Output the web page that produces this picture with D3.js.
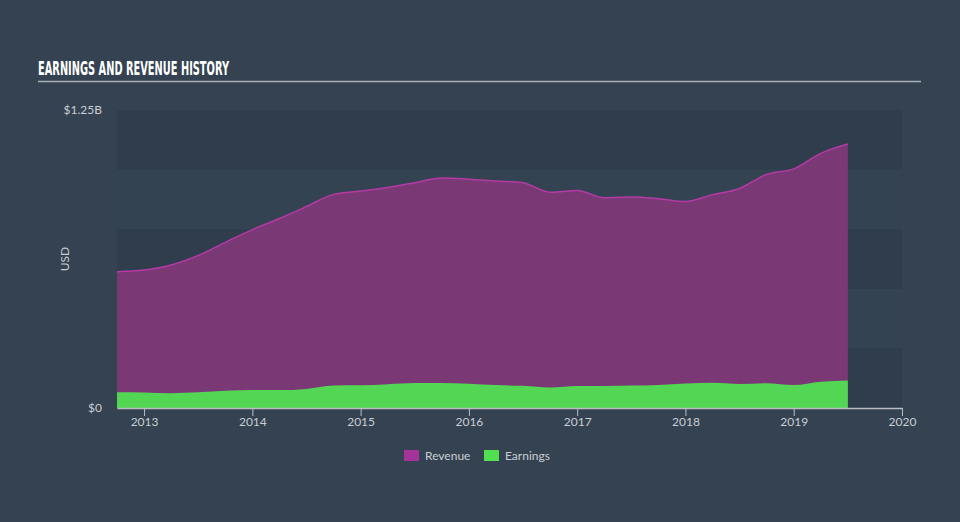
<!DOCTYPE html>
<html><head><meta charset="utf-8">
<script src="https://cdn.jsdelivr.net/npm/d3@7"></script>
<style>
html,body{margin:0;padding:0;background:#344251;}
svg{display:block;}
</style></head>
<body><svg id="c" width="960" height="522"></svg>
<script>
const dates = [2012.75,2013.0,2013.25,2013.5,2013.75,2014.0,2014.25,2014.5,2014.75,2015.0,2015.25,2015.5,2015.75,2016.0,2016.25,2016.5,2016.75,2017.0,2017.25,2017.5,2017.75,2018.0,2018.25,2018.5,2018.75,2019.0,2019.25,2019.5];
const revenue = [0.572,0.579,0.600,0.640,0.695,0.748,0.795,0.845,0.896,0.910,0.925,0.945,0.965,0.960,0.952,0.945,0.905,0.912,0.882,0.885,0.878,0.866,0.895,0.921,0.980,1.003,1.068,1.107];
const earnings = [0.066,0.065,0.062,0.066,0.072,0.075,0.075,0.080,0.094,0.095,0.100,0.105,0.105,0.102,0.096,0.093,0.086,0.092,0.092,0.094,0.097,0.103,0.106,0.101,0.104,0.096,0.110,0.115];
const xTicks = [2013,2014,2015,2016,2017,2018,2019,2020];
const yTickLabels = ["$0","$1.25B"];
const yTickValues = [0,1.25];
const seriesNames = ["Revenue","Earnings"];
const seriesColors = ["#a5349a","#51e04f"];

const svg = d3.select("#c");
const L=117, R=902, T=110, B=408;
const x = d3.scaleLinear().domain([2012.75,2020]).range([L,R]);
const y = d3.scaleLinear().domain([0,1.25]).range([B,T]);

// title
svg.append("text").attr("x",38).attr("y",75).text("EARNINGS AND REVENUE HISTORY")
  .attr("fill","#ffffff").attr("font-family","'DejaVu Sans Condensed','Liberation Sans Narrow',sans-serif")
  .attr("font-weight","bold").attr("font-size",20)
  .attr("textLength",191).attr("lengthAdjust","spacingAndGlyphs");
svg.append("line").attr("x1",38).attr("x2",921).attr("y1",81.5).attr("y2",81.5).attr("stroke","#a9b0b8").attr("stroke-width",1.5);

// bands
const bands = d3.range(5);
svg.selectAll("rect.band").data(bands).enter().append("rect")
  .attr("x",L).attr("width",R-L)
  .attr("y",i=>y(1.25-i*0.25)).attr("height",i=>y(0)-y(0.25))
  .attr("fill",i=>i%2===0?"#2f3d4c":"#344352");

const pts = dates.map((d,i)=>({d,r:revenue[i],e:earnings[i]}));
const curve = d3.curveMonotoneX;
svg.append("path").datum(pts).attr("fill","#7a3875")
  .attr("d",d3.area().curve(curve).x(p=>x(p.d)).y0(y(0)).y1(p=>y(p.r)));
svg.append("path").datum(pts).attr("fill","none").attr("stroke","#b53aa5").attr("stroke-width",1.5)
  .attr("d",d3.line().curve(curve).x(p=>x(p.d)).y(p=>y(p.r)));
svg.append("path").datum(pts).attr("fill","#53d654")
  .attr("d",d3.area().curve(curve).x(p=>x(p.d)).y0(y(0)).y1(p=>y(p.e)));

// x axis
const xa = svg.append("g").attr("transform",`translate(0,${B})`)
  .call(d3.axisBottom(x).tickValues(xTicks).tickFormat(d3.format("d")).tickSize(8).tickSizeOuter(0));
xa.select(".domain").attr("stroke","#b9bec6").attr("stroke-width",1.5);
xa.selectAll(".tick line").attr("stroke","#b9bec6");
xa.selectAll("text").attr("fill","#c9ced4").attr("font-family","Lato, 'Open Sans', sans-serif").attr("font-size",12).attr("dy","0.55em");

// y labels
svg.selectAll("text.yl").data(yTickValues).enter().append("text")
  .attr("x",102).attr("y",v=>y(v)+4).attr("text-anchor","end")
  .attr("fill","#c9ced4").attr("font-family","Lato, 'Open Sans', sans-serif").attr("font-size",12)
  .text((v,i)=>yTickLabels[i]);
svg.append("text").attr("transform","translate(69,259) rotate(-90)").attr("text-anchor","middle")
  .attr("fill","#c9ced4").attr("font-family","Lato, 'Open Sans', sans-serif").attr("font-size",12).text("USD");

// legend
const lg = svg.append("g");
const lx = [404,484];
seriesNames.forEach((n,i)=>{
  lg.append("rect").attr("x",lx[i]).attr("y",450).attr("width",15).attr("height",11).attr("fill",seriesColors[i]);
  lg.append("text").attr("x",lx[i]+21).attr("y",460).text(n).attr("fill","#c9ced4")
    .attr("font-family","Lato, 'Open Sans', sans-serif").attr("font-size",12);
});
</script></body></html>
